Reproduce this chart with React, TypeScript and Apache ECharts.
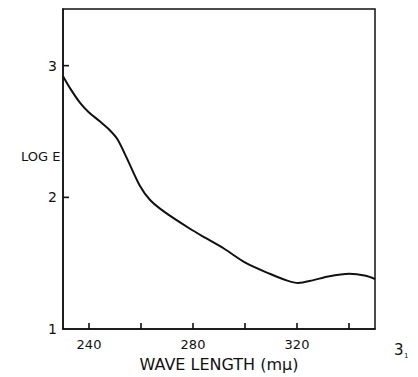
import React, { useEffect, useRef } from "react";
import * as echarts from "echarts";

const wavelengths = [230, 233, 236.5, 240, 244, 248, 251, 254.5, 259.5, 263.5, 269, 279, 285, 292, 300.5, 309.5, 316, 320.5, 326, 332, 340, 346.5, 350];
const logE = [2.92, 2.82, 2.72, 2.645, 2.58, 2.51, 2.44, 2.3, 2.09, 1.98, 1.89, 1.76, 1.69, 1.61, 1.5, 1.42, 1.37, 1.35, 1.37, 1.4, 1.42, 1.405, 1.38];
const xLabelValues = [240, 280, 320];
const xTickValues = [240, 260, 280, 300, 320, 340];
const yLabelValues = [1, 2, 3];
const yTickValues = [2, 3];
const X_MIN = 230;
const X_MAX = 350;
const Y_MIN = 1;
const Y_MAX = 3.43;

const FONT = "DejaVu Sans";
const INK = "#111";

export default function App() {
  const ref = useRef<HTMLDivElement>(null);
  useEffect(() => {
    if (!ref.current) return;
    const chart = echarts.init(ref.current, null, { renderer: "svg" });
    chart.setOption({
      animation: false,
      backgroundColor: "#fff",
      grid: {
        left: 63,
        right: 43,
        top: 9,
        bottom: 47,
        show: true,
        borderColor: INK,
        borderWidth: 1.5,
        backgroundColor: "transparent",
      },
      xAxis: {
        type: "value",
        min: X_MIN,
        max: X_MAX,
        interval: 10,
        name: "WAVE LENGTH (m\u03bc)",
        nameLocation: "middle",
        nameGap: 19,
        nameTextStyle: { fontFamily: FONT, fontSize: 16, color: INK },
        axisLine: { show: true, lineStyle: { color: INK, width: 1.5 } },
        axisTick: { show: false },
        axisLabel: { show: true, customValues: xLabelValues, margin: 9, fontFamily: FONT, fontSize: 13, color: INK },
        splitLine: { show: false },
      },
      yAxis: {
        type: "value",
        min: Y_MIN,
        max: Y_MAX,
        interval: 1,
        axisLine: { show: true, lineStyle: { color: INK, width: 1.5 } },
        axisTick: { show: false },
        axisLabel: { show: true, customValues: yLabelValues, margin: 6, fontFamily: FONT, fontSize: 14, color: INK },
        splitLine: { show: false },
      },
      graphic: [
        { type: "text", left: 21, top: 150, style: { text: "LOG E", fontFamily: FONT, fontSize: 13, fill: INK } },
        { type: "text", left: 394, top: 342, style: { text: "3", fontFamily: FONT, fontSize: 15, fill: INK } },
        { type: "text", left: 404, top: 352, style: { text: "1", fontFamily: FONT, fontSize: 7, fill: INK } },
      ],
      series: [
        {
          type: "line",
          data: wavelengths.map((w, i) => [w, logE[i]]),
          smooth: 0.3,
          showSymbol: false,
          lineStyle: { color: INK, width: 2 },
          z: 3,
        },
        {
          type: "scatter",
          silent: true,
          clip: false,
          z: 5,
          data: xTickValues.map((v) => [v, Y_MIN]),
          symbol: "rect",
          symbolSize: [1.6, 6],
          symbolOffset: [0, -3],
          itemStyle: { color: INK, opacity: 1 },
        },
        {
          type: "scatter",
          silent: true,
          clip: false,
          z: 5,
          data: yTickValues.map((v) => [X_MIN, v]),
          symbol: "rect",
          symbolSize: [6, 1.6],
          symbolOffset: [3, 0],
          itemStyle: { color: INK, opacity: 1 },
        },
      ],
    });
    return () => chart.dispose();
  }, []);
  return <div ref={ref} style={{ width: 418, height: 377, position: "absolute", left: 0, top: 0 }} />;
}
